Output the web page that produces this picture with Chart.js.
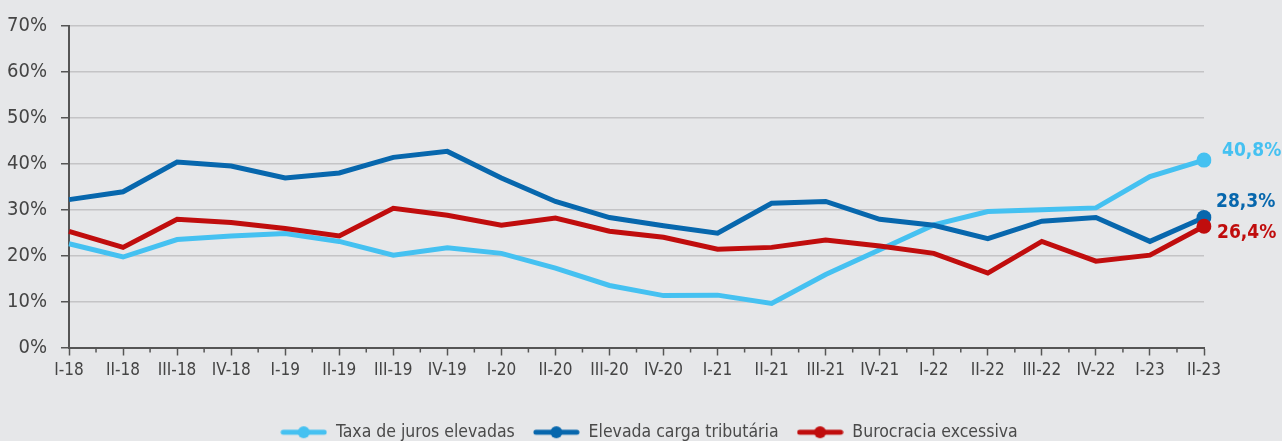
<!DOCTYPE html>
<html>
<head>
<meta charset="utf-8">
<script src="https://cdn.jsdelivr.net/npm/chart.js@4.4.0/dist/chart.umd.min.js"></script>
<style>
  html, body { margin: 0; padding: 0; background: #e6e7e9; overflow: hidden; }
  #wrap { width: 1282px; height: 441px; position: relative; overflow: hidden; }
</style>
</head>
<body>
<div id="wrap"><canvas id="chart" width="1298" height="451"></canvas></div>
<script>
// quarters
const labels = ['I-18', 'II-18', 'III-18', 'IV-18', 'I-19', 'II-19', 'III-19', 'IV-19',
    'I-20', 'II-20', 'III-20', 'IV-20', 'I-21', 'II-21', 'III-21', 'IV-21',
    'I-22', 'II-22', 'III-22', 'IV-22', 'I-23', 'II-23'];

const juros = [22.6, 19.7, 23.5, 24.3, 24.8, 23.1, 20.1, 21.7, 20.5, 17.3, 13.5, 11.3,
    11.4, 9.6, 15.9, 21.3, 26.7, 29.6, 30.0, 30.4, 37.2, 40.8];
const tributaria = [32.2, 33.9, 40.4, 39.5, 36.9, 38.0, 41.4, 42.7, 36.9, 31.8, 28.3, 26.5,
    24.9, 31.4, 31.8, 27.9, 26.6, 23.7, 27.5, 28.3, 23.1, 28.3];
const burocracia = [25.3, 21.8, 27.9, 27.2, 25.9, 24.3, 30.3, 28.8, 26.6, 28.2, 25.3, 24.0,
    21.4, 21.8, 23.4, 22.1, 20.5, 16.2, 23.1, 18.8, 20.1, 26.4];

const seriesNames = ['Taxa de juros elevadas', 'Elevada carga tributária', 'Burocracia excessiva'];
const colors = ['#45c1f1', '#0767ad', '#c00d0d'];

const FONT = "'Liberation Sans Narrow', 'DejaVu Sans Condensed', sans-serif";
const AXIS = '#555555';

function legendIcon(color) {
    const c = document.createElement('canvas');
    c.width = 47; c.height = 14;
    const g = c.getContext('2d');
    g.strokeStyle = color;
    g.lineWidth = 5;
    g.lineCap = 'round';
    g.beginPath(); g.moveTo(3, 7); g.lineTo(44, 7); g.stroke();
    g.fillStyle = color;
    g.beginPath(); g.arc(23.5, 7, 6, 0, Math.PI * 2); g.fill();
    return c;
}

function lastOnly(ctx) {
    return ctx.dataIndex === labels.length - 1 ? 7.5 : 0;
}

function makeSet(i, values, order) {
    return {
        label: seriesNames[i],
        data: values,
        order: order,
        borderColor: colors[i],
        backgroundColor: colors[i],
        borderWidth: 5,
        tension: 0,
        pointRadius: lastOnly,
        pointHoverRadius: lastOnly,
        pointBorderWidth: 0
    };
}

// end-of-line value labels
const endLabels = {
    id: 'endLabels',
    afterDatasetsDraw(chart) {
        const ctx = chart.ctx;
        const dx = [18, 12, 13];
        const dy = [-9, -15, 7];
        ctx.save();
        ctx.font = "bold 19px " + FONT;
        ctx.textBaseline = 'middle';
        ctx.textAlign = 'left';
        chart.data.datasets.forEach((ds, i) => {
            const meta = chart.getDatasetMeta(i);
            const pt = meta.data[meta.data.length - 1];
            const v = ds.data[ds.data.length - 1];
            ctx.fillStyle = colors[i];
            ctx.fillText(v.toFixed(1).replace('.', ',') + '%', pt.x + dx[i], pt.y + dy[i]);
        });
        ctx.restore();
    }
};

// small ticks between the quarter labels
const minorTicks = {
    id: 'minorTicks',
    afterDraw(chart) {
        const x = chart.scales.x;
        const ctx = chart.ctx;
        const y0 = chart.chartArea.bottom;
        ctx.save();
        ctx.strokeStyle = AXIS;
        ctx.lineWidth = 1.5;
        for (let i = 0; i < labels.length - 1; i++) {
            const px = (x.getPixelForTick(i) + x.getPixelForTick(i + 1)) / 2;
            ctx.beginPath();
            ctx.moveTo(px, y0);
            ctx.lineTo(px, y0 + 5);
            ctx.stroke();
        }
        ctx.restore();
    }
};

new Chart(document.getElementById('chart'), {
    type: 'line',
    data: {
        labels: labels,
        datasets: [makeSet(0, juros, 2), makeSet(1, tributaria, 1), makeSet(2, burocracia, 0)]
    },
    options: {
        responsive: false,
        animation: false,
        layout: { padding: { left: 0, right: 0, top: 12, bottom: 0 } },
        plugins: {
            tooltip: { enabled: false },
            legend: {
                position: 'bottom',
                labels: {
                    font: { family: FONT, size: 17.5 },
                    color: '#4a4a4a',
                    usePointStyle: true,
                    pointStyleWidth: 47,
                    padding: 18,
                    generateLabels(chart) {
                        return chart.data.datasets.map((ds, i) => ({
                            text: ds.label,
                            pointStyle: legendIcon(colors[i]),
                            fillStyle: colors[i],
                            strokeStyle: colors[i],
                            lineWidth: 0,
                            fontColor: '#4a4a4a',
                            datasetIndex: i
                        }));
                    }
                }
            }
        },
        scales: {
            x: {
                offset: false,
                grid: {
                    drawOnChartArea: false,
                    drawTicks: true,
                    tickLength: 8,
                    tickColor: AXIS,
                    tickWidth: 1.5
                },
                border: { color: AXIS, width: 2 },
                ticks: {
                    font: { family: FONT, size: 17 },
                    color: '#454545',
                    maxRotation: 0,
                    autoSkip: false,
                    padding: 5
                },
                afterFit(scale) { scale.height = 58; }
            },
            y: {
                min: 0,
                max: 70,
                grid: {
                    color: '#c4c4c6',
                    lineWidth: 1.5,
                    tickColor: AXIS,
                    tickLength: 8,
                    tickWidth: 1.5
                },
                border: { color: AXIS, width: 2 },
                ticks: {
                    stepSize: 10,
                    font: { family: FONT, size: 20 },
                    color: '#454545',
                    padding: 14,
                    callback: v => v + '%'
                },
                afterFit(scale) { scale.width = 69; }
            },
            // empty room on the right for the end labels
            yRight: {
                position: 'right',
                min: 0,
                max: 70,
                grid: { drawOnChartArea: false, drawTicks: false },
                border: { display: false },
                ticks: { display: false },
                afterFit(scale) { scale.width = 94; }
            }
        }
    },
    plugins: [endLabels, minorTicks]
});
</script>
</body>
</html>
